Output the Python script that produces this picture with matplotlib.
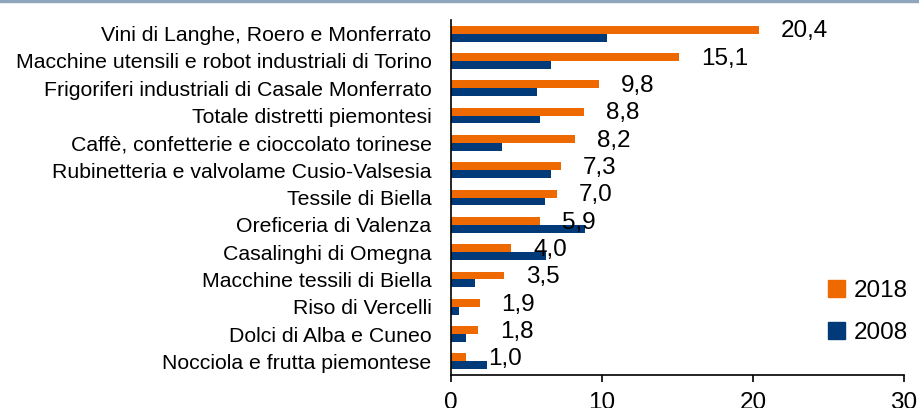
import matplotlib
matplotlib.use("Agg")
import matplotlib.pyplot as plt
from matplotlib.patches import Patch, Rectangle
import numpy as np

plt.rcParams['font.family'] = ['Liberation Sans', 'DejaVu Sans']

categories = [
    "Vini di Langhe, Roero e Monferrato",
    "Macchine utensili e robot industriali di Torino",
    "Frigoriferi industriali di Casale Monferrato",
    "Totale distretti piemontesi",
    "Caffè, confetterie e cioccolato torinese",
    "Rubinetteria e valvolame Cusio-Valsesia",
    "Tessile di Biella",
    "Oreficeria di Valenza",
    "Casalinghi di Omegna",
    "Macchine tessili di Biella",
    "Riso di Vercelli",
    "Dolci di Alba e Cuneo",
    "Nocciola e frutta piemontese",
]
values_2018 = [20.4, 15.1, 9.8, 8.8, 8.2, 7.3, 7.0, 5.9, 4.0, 3.5, 1.9, 1.8, 1.0]
values_2008 = [10.3, 6.6, 5.7, 5.9, 3.4, 6.6, 6.2, 8.9, 6.3, 1.6, 0.5, 1.0, 2.4]
value_labels = ["20,4", "15,1", "9,8", "8,8", "8,2", "7,3", "7,0", "5,9", "4,0", "3,5", "1,9", "1,8", "1,0"]
x_ticks = [0, 10, 20, 30]

c18 = "#EE6A00"
c08 = "#003A78"

fig = plt.figure(figsize=(9.2, 4.08), dpi=100)
ax = fig.add_axes([451/920, 1-375/408, (904-451)/920, (375-20)/408])

y = np.arange(len(categories))
h = 0.29
ax.barh(y - h/2, values_2018, height=h, color=c18, label="2018")
ax.barh(y + h/2, values_2008, height=h, color=c08, label="2008")

for yi, v, lab in zip(y, values_2018, value_labels):
    ax.text(v + 1.45, yi - 0.08, lab, va='center', ha='left', fontsize=17.5, color='black')

ax.set_ylim(len(categories) - 0.5, -0.5)
ax.set_xlim(0, 30)
ax.set_yticks(y)
ax.set_yticklabels(categories, fontsize=15.3)
ax.set_xticks(x_ticks)
ax.set_xticklabels([str(t) for t in x_ticks], fontsize=17.5)
ax.tick_params(axis='y', length=0, pad=14)
ax.tick_params(axis='x', direction='out', length=5, width=1.2, pad=7)
for s in ['top', 'right']:
    ax.spines[s].set_visible(False)
ax.spines['left'].set_linewidth(1.2)
ax.spines['bottom'].set_linewidth(1.2)

handles = [Patch(color=c18, label="2018"), Patch(color=c08, label="2008")]
ax.legend(handles=handles, loc='center left', bbox_to_anchor=(828/920, 1-312/408),
          bbox_transform=fig.transFigure, frameon=False, fontsize=17.5,
          handlelength=0.7, handleheight=0.7, handletextpad=0.35, labelspacing=0.8,
          borderpad=0, borderaxespad=0)

fig.patches.append(Rectangle((0, 1-2/408), 1, 2/408, transform=fig.transFigure,
                             color="#8FA5BB", zorder=10))

fig.savefig("out.png", dpi=100)
